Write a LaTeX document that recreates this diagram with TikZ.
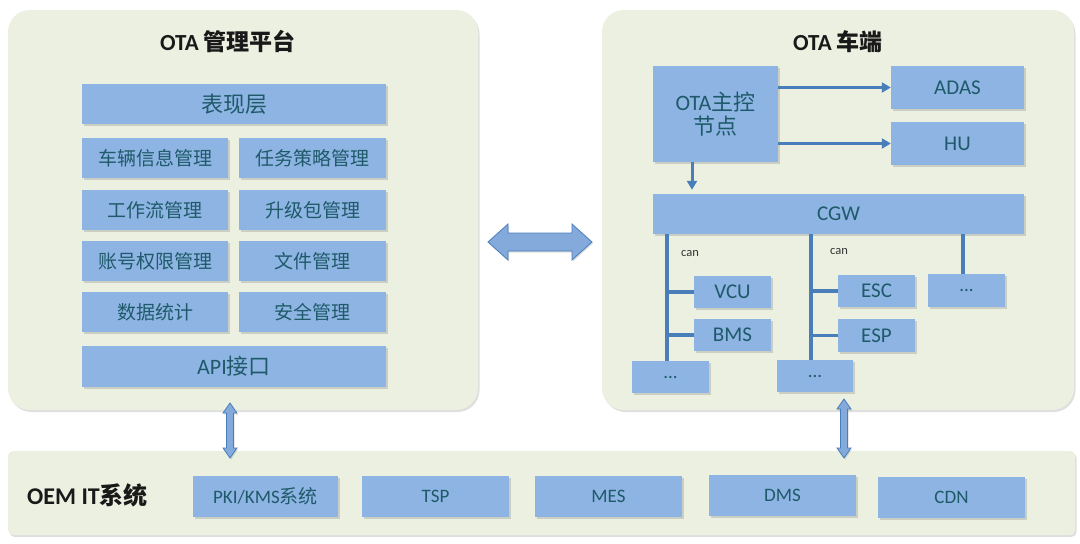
\documentclass[tikz,border=0pt]{standalone}
\usepackage{fontspec}
\setmainfont{Carlito}
\newfontfamily\cjk{Noto Sans CJK SC}
\usetikzlibrary{shadows,fit,calc,arrows.meta}
\definecolor{panel}{HTML}{ECF0E0}
\definecolor{boxfill}{HTML}{8EB4E3}
\definecolor{txt}{HTML}{1E5A69}
\definecolor{linec}{HTML}{4A7EBB}
\definecolor{arrfill}{HTML}{84AADB}
\newcommand\zh[1]{{\cjk #1}}
\newcommand\bx[6]{\node[box,#6,fit={(#2,#3) (#4,#5)}] (#1) {};}
\newcommand\harr[3]{\draw[darr] (#1,#3) -- (#1+20,#3-18) -- (#1+20,#3-9) -- (#2-20,#3-9) -- (#2-20,#3-18) -- (#2,#3) -- (#2-20,#3+18) -- (#2-20,#3+9) -- (#1+20,#3+9) -- (#1+20,#3+18) -- cycle;}
\newcommand\varr[3]{\draw[darr] (#1,#2) -- (#1+7,#2+10) -- (#1+3.5,#2+10) -- (#1+3.5,#3-10) -- (#1+7,#3-10) -- (#1,#3) -- (#1-7,#3-10) -- (#1-3.5,#3-10) -- (#1-3.5,#2+10) -- (#1-7,#2+10) -- cycle;}
\begin{document}
\begin{tikzpicture}[x=1pt,y=-1pt,
  panelbox/.style={fill=panel, inner sep=0pt, drop shadow={shadow xshift=1.5pt, shadow yshift=-2pt, opacity=0.25}},
  box/.style={fill=boxfill, inner sep=0pt, drop shadow={shadow xshift=1.5pt, shadow yshift=-1.5pt, opacity=0.3}},
  lbl/.style={text=txt, inner sep=0pt},
  fa/.style={font=\fontsize{19}{23}\selectfont},
  fb/.style={font=\fontsize{22}{25}\selectfont},
  fc/.style={font=\fontsize{21}{24}\selectfont},
  fd/.style={font=\fontsize{19}{22}\selectfont},
  title/.style={font=\fontsize{23}{27}\selectfont\bfseries, text=black!90, inner sep=0pt},
  bus/.style={draw=linec, line width=3.5pt},
  conn/.style={draw=linec, line width=3pt, -{Triangle[length=9pt,width=10pt]}},
  darr/.style={fill=arrfill, draw=linec, line width=0.8pt, line join=miter, drop shadow={shadow xshift=1pt, shadow yshift=-1.5pt, opacity=0.25}},
  canl/.style={font=\fontsize{12.5}{14}\selectfont, text=black!80, inner sep=0pt, anchor=west}
]
\fill[white] (0,0) rectangle (1080,544);
\useasboundingbox (0,0) rectangle (1080,544);

% panels
\node[panelbox, rounded corners=22pt, fit={(8,10) (478,410)}] (lp) {};
\node[panelbox, rounded corners=22pt, fit={(602,10) (1074,410)}] (rp) {};
\node[panelbox, rounded corners=5pt, fit={(8,451) (1075,535)}] (bp) {};

\node[title] (lpt) at (228,42) {OTA \zh{管理平台}};
\node[title] (rpt) at (838,42) {OTA \zh{车端}};
\node[title, anchor=west, font=\fontsize{24}{28}\selectfont\bfseries] (bpt) at (27,495) {OEM IT\zh{系统}};

% left panel boxes
\bx{pres}{82}{84}{386}{124}{}
\node[lbl,fb] at (pres) {\zh{表现层}};
\bx{veh}{82}{138}{228}{178}{}
\node[lbl,fa] at (veh) {\zh{车辆信息管理}};
\bx{task}{239}{138}{386}{178}{}
\node[lbl,fa] at (task) {\zh{任务策略管理}};
\bx{wf}{82}{190}{228}{230}{}
\node[lbl,fa] at (wf) {\zh{工作流管理}};
\bx{pkg}{239}{190}{386}{230}{}
\node[lbl,fa] at (pkg) {\zh{升级包管理}};
\bx{acc}{82}{241}{228}{281}{}
\node[lbl,fa] at (acc) {\zh{账号权限管理}};
\bx{file}{239}{241}{386}{281}{}
\node[lbl,fa] at (file) {\zh{文件管理}};
\bx{stat}{82}{292}{228}{332}{}
\node[lbl,fa] at (stat) {\zh{数据统计}};
\bx{sec}{239}{292}{386}{332}{}
\node[lbl,fa] at (sec) {\zh{安全管理}};
\bx{api}{82}{346}{386}{387}{}
\node[lbl,fb] at (api) {API\zh{接口}};

% right panel boxes
\bx{ota}{653}{66}{778}{162}{}
\node[lbl,fb,align=center] at (ota) {OTA\zh{主控}\\[-1pt]\zh{节点}};
\bx{adas}{891}{66}{1024}{109}{}
\node[lbl,fc] at (adas) {ADAS};
\bx{hu}{891}{122}{1024}{165}{}
\node[lbl,fc] at (hu) {HU};
\bx{cgw}{653}{194}{1024}{234}{}
\node[lbl,fc] at (cgw) {CGW};
\bx{vcu}{694}{276}{771}{308}{}
\node[lbl,fc] at (vcu) {VCU};
\bx{bms}{694}{319}{771}{351}{}
\node[lbl,fc] at (bms) {BMS};
\bx{esc}{838}{275}{915}{307}{}
\node[lbl,fc] at (esc) {ESC};
\bx{esp}{838}{319}{915}{352}{}
\node[lbl,fc] at (esp) {ESP};
\bx{dotsC}{928}{274}{1005}{307}{}
\node[lbl,fd] at (dotsC) {...};
\bx{dotsA}{632}{361}{709}{393}{}
\node[lbl,fd] at (dotsA) {...};
\bx{dotsB}{777}{360}{853}{392}{}
\node[lbl,fd] at (dotsB) {...};

% bottom boxes
\bx{pki}{193}{476}{338}{517}{}
\node[lbl,fd] at (pki) {PKI/KMS\zh{系统}};
\bx{tsp}{362}{476}{509}{517}{}
\node[lbl,fd] at (tsp) {TSP};
\bx{mes}{535}{476}{682}{517}{}
\node[lbl,fd] at (mes) {MES};
\bx{dms}{709}{475}{856}{516}{}
\node[lbl,fd] at (dms) {DMS};
\bx{cdn}{878}{477}{1025}{518}{}
\node[lbl,fd] at (cdn) {CDN};

% connectors in vehicle side
\draw[conn] (ota.east |- adas.west) -- (adas.west);
\draw[conn] (ota.east |- hu.west) -- (hu.west);
\coordinate (od) at ($(ota.south)+(-23.5,0)$);
\draw[conn, shorten >=4pt] (od) -- (od |- cgw.north);

\coordinate (b1) at (667,234);
\coordinate (b2) at (811,234);
\coordinate (b3) at (963,234);
\draw[bus] (b1) -- (b1 |- dotsA.north);
\draw[bus] (b2) -- (b2 |- dotsB.north);
\draw[bus] (b3) -- (b3 |- dotsC.north);
\draw[bus] (b1 |- vcu.west) -- (vcu.west);
\draw[bus] (b1 |- bms.west) -- (bms.west);
\draw[bus] (b2 |- esc.west) -- (esc.west);
\draw[bus] (b2 |- esp.west) -- (esp.west);
\node[canl] (can1) at (681,254) {can};
\node[canl] (can2) at (830,252) {can};

% double arrows
\harr{488}{592}{242}
\varr{230}{403}{458}
\varr{844}{399}{458}
\end{tikzpicture}
\end{document}
